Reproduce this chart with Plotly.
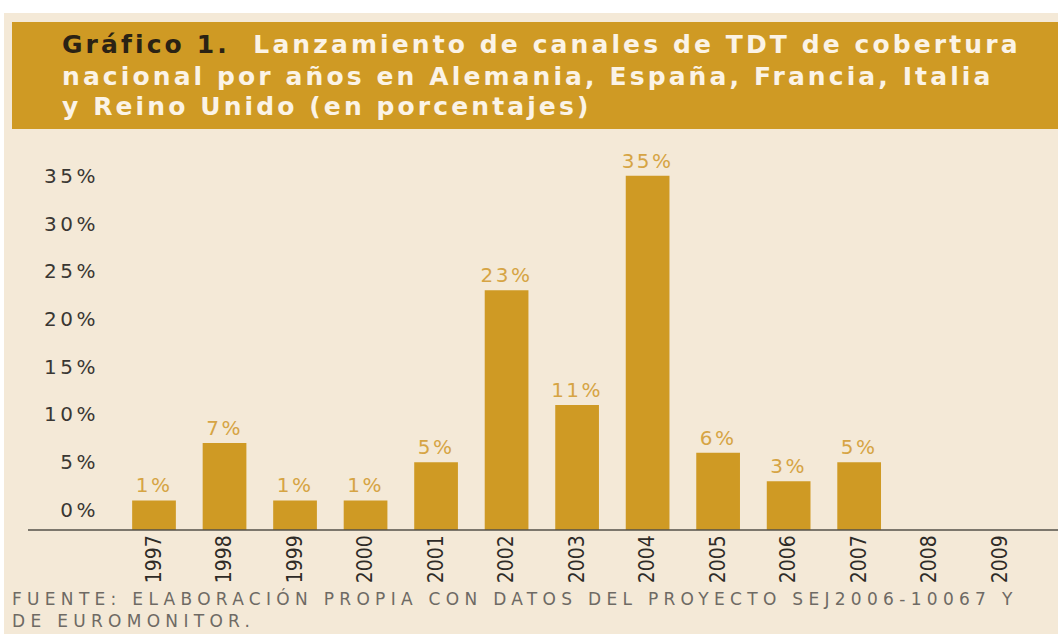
import plotly.graph_objects as go

years = ["1997", "1998", "1999", "2000", "2001", "2002", "2003",
         "2004", "2005", "2006", "2007", "2008", "2009"]
values = [1, 7, 1, 1, 5, 23, 11, 35, 6, 3, 5, None, None]
labels = ["1%", "7%", "1%", "1%", "5%", "23%", "11%", "35%", "6%", "3%", "5%", "", ""]
tick_vals = [0, 5, 10, 15, 20, 25, 30, 35]
tick_text = ["0%", "5%", "10%", "15%", "20%", "25%", "30%", "35%"]

title_lead = "Gráfico 1."
title_lines = ["Lanzamiento de canales de TDT de cobertura",
               "nacional por años en Alemania, España, Francia, Italia",
               "y Reino Unido (en porcentajes)"]
source_lines = ["FUENTE: ELABORACIÓN PROPIA CON DATOS DEL PROYECTO SEJ2006-10067 Y",
                "DE EUROMONITOR."]

W, H = 1058, 634
ML, MR, MT, MB = 100, 0, 150, 104
PW, PH = W - ML - MR, H - MT - MB

GOLD = "#cf9a24"
LABEL_GOLD = "#d6a444"
CREAM = "#f4e9d7"
AXIS_MIN = -2.1
AXIS_MAX = 37.7


def px(x):
    return (x - ML) / PW


def py(y):
    return (H - MB - y) / PH


def spaced(s, sp):
    return "<span style='letter-spacing:%spx'>%s</span>" % (sp, s)


bar_len = [None if v is None else v - AXIS_MIN for v in values]

fig = go.Figure()
fig.add_trace(go.Bar(
    x=years, y=bar_len, base=AXIS_MIN,
    marker=dict(color=GOLD, line=dict(width=0)),
    text=[spaced(t, 2.5) if t else "" for t in labels], textposition="outside",
    constraintext="none",
    textfont=dict(family="DejaVu Sans", size=20, color=LABEL_GOLD),
    cliponaxis=False, hoverinfo="skip",
))

shapes = [
    dict(type="rect", xref="paper", yref="paper", x0=px(0), x1=px(W), y0=py(0), y1=py(13),
         fillcolor="white", line=dict(width=0), layer="below"),
    dict(type="rect", xref="paper", yref="paper", x0=px(0), x1=px(4), y0=py(0), y1=py(H),
         fillcolor="white", line=dict(width=0), layer="below"),
    dict(type="rect", xref="paper", yref="paper", x0=px(12), x1=px(W), y0=py(22), y1=py(129),
         fillcolor=GOLD, line=dict(width=0), layer="below"),
    dict(type="line", xref="paper", yref="paper", x0=px(28), x1=px(W), y0=0, y1=0,
         line=dict(color="#555049", width=1.6)),
]

TSP = 3.1
title_texts = [
    "<b><span style='color:#2a2214;letter-spacing:%spx'>%s</span></b>"
    "<b><span style='letter-spacing:%spx'>\u00a0 %s</span></b>" % (TSP, title_lead, TSP, title_lines[0]),
    "<b>" + spaced(title_lines[1], TSP) + "</b>",
    "<b>" + spaced(title_lines[2], TSP) + "</b>",
]
title_centers = [45, 76, 106]

annotations = []
for t, yc in zip(title_texts, title_centers):
    annotations.append(dict(
        text=t, xref="paper", yref="paper", x=px(60), y=py(yc),
        xanchor="left", yanchor="middle", align="left", showarrow=False,
        font=dict(family="DejaVu Sans", size=25, color="#fbf3e6")))

annotations.append(dict(
    text="<br>".join(spaced(t, 5.3) for t in source_lines),
    xref="paper", yref="paper", x=px(10), y=py(633),
    xanchor="left", yanchor="bottom", align="left", showarrow=False,
    font=dict(family="DejaVu Sans", size=17, color="#6e6a64")))

fig.update_layout(
    width=W, height=H,
    margin=dict(l=ML, r=MR, t=MT, b=MB),
    paper_bgcolor=CREAM, plot_bgcolor=CREAM,
    showlegend=False,
    bargap=0.38,
    xaxis=dict(range=[-0.766, 12.82], tickangle=-90, showgrid=False, showline=False,
               zeroline=False, ticks="",
               tickfont=dict(family="DejaVu Sans Condensed, DejaVu Sans", size=21, color="#2e2b27")),
    yaxis=dict(range=[AXIS_MIN, AXIS_MAX], tickvals=tick_vals,
               ticktext=[spaced(t, 3.5) for t in tick_text],
               showgrid=False, zeroline=False, showline=False, ticks="",
               tickfont=dict(family="DejaVu Sans", size=20, color="#3a3733")),
    shapes=shapes,
    annotations=annotations,
)

fig.write_html("out.html", config={"displayModeBar": False},
               post_script="document.body.style.margin='0px';")
